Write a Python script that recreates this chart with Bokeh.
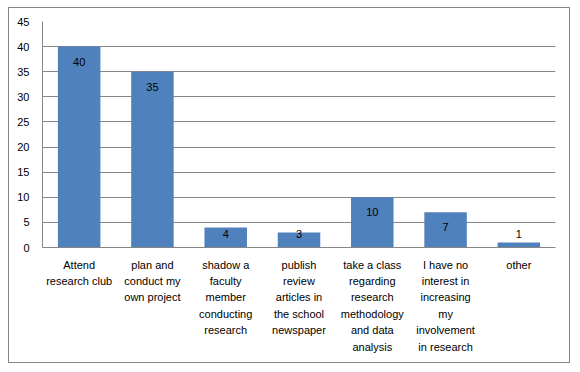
from bokeh.plotting import figure
from bokeh.models import ColumnDataSource, FixedTicker
from bokeh.core.properties import value
from bokeh.embed import file_html
from bokeh.resources import INLINE

categories = [
    "Attend\nresearch club",
    "plan and\nconduct my\nown project",
    "shadow a\nfaculty\nmember\nconducting\nresearch",
    "publish\nreview\narticles in\nthe school\nnewspaper",
    "take a class\nregarding\nresearch\nmethodology\nand data\nanalysis",
    "I have no\ninterest in\nincreasing\nmy\ninvolvement\nin research",
    "other",
]
counts = [40, 35, 4, 3, 10, 7, 1]
y_ticks = [0, 5, 10, 15, 20, 25, 30, 35, 40, 45]

FONT = "Liberation Sans"
GRID = "#868686"
BAR = "#4F81BD"

label_y = [max(v - 3, 2.6) for v in counts]
src = ColumnDataSource(dict(cat=categories, v=counts, ly=label_y,
                            txt=[str(v) for v in counts]))

p = figure(x_range=categories, y_range=(0, 45), width=562, height=356,
           output_backend="svg", toolbar_location=None,
           min_border_left=33, min_border_right=16, min_border_top=13,
           min_border_bottom=117)
p.margin = (7, 0, 0, 8)
p.styles = {"border": "1px solid #868686", "box-sizing": "border-box"}

p.vbar(x="cat", top="v", width=0.58, source=src, color=BAR, line_color=None)
p.text(x="cat", y="ly", text="txt", source=src, text_align="center",
       text_baseline="middle", text_font=value(FONT), text_font_size="11px",
       text_color="black")

p.outline_line_color = None
p.xgrid.grid_line_color = None
p.ygrid.grid_line_color = GRID
p.ygrid.grid_line_width = 1
p.yaxis.ticker = FixedTicker(ticks=y_ticks)

for ax in (p.xaxis, p.yaxis):
    ax.axis_line_color = GRID
    ax.major_tick_line_color = None
    ax.minor_tick_line_color = None
    ax.major_label_text_font = FONT
    ax.major_label_text_font_size = "11px"
    ax.major_label_text_color = "black"

p.xaxis.major_label_text_line_height = 1.37
p.yaxis.major_label_standoff = 7
p.xaxis.major_label_standoff = 5

open("out.html", "w").write(file_html(p, INLINE))
